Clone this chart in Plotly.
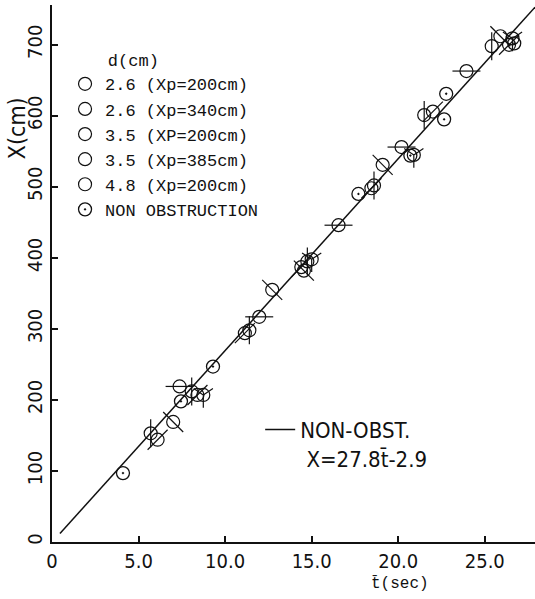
import plotly.graph_objects as go

# ---- data (t in sec, X in cm) ----
nonobs_t = [4.1, 7.45, 9.3, 17.7, 20.7, 22.65, 22.77, 26.7]
nonobs_X = [97, 198, 247, 490, 544, 595, 631, 702]

s1_t = [5.7, 8.07, 11.4, 14.75, 18.6, 21.5, 25.4]      # d=2.6 (Xp=200cm)
s1_X = [153, 212, 298, 395, 502, 601, 698]
s2_t = [7.37, 11.97, 16.55, 20.19, 23.94]               # d=2.6 (Xp=340cm)
s2_X = [219, 317, 446, 556, 663]
s3_t = [6.1, 8.4, 11.14, 14.4, 18.45, 22.0, 26.4]       # d=3.5 (XP=200cm)
s3_X = [144, 207, 294, 387, 498, 606, 700]
s4_t = [7.0, 12.72, 14.55, 19.1, 25.9]                  # d=3.5 (Xp=385cm)
s4_X = [169, 355, 382, 531, 712]
s5_t = [8.74, 15.0, 20.9, 26.6]                         # d=4.8 (Xp=200cm)
s5_X = [207, 398, 545, 709]

fit_t = [0.46, 27.9]
fit_X = [12, 753]

series_names = ["2.6 (Xp=200cm)", "2.6 (Xp=340cm)", "3.5 (XP=200cm)",
                "3.5 (Xp=385cm)", "4.8 (Xp=200cm)"]
tick_symbols = ["line-ns", "line-ew", "line-ne", "line-nw", "y-down"]
tick_sizes = [20, 20, 20, 20, 16]

x_tickvals = [0, 5, 10, 15, 20, 25]
x_ticktext = ["0", "5.0", "10.0", "15.0", "20.0", "25.0"]
y_tickvals = [0, 100, 200, 300, 400, 500, 600, 700]
y_ticktext = ["0", "100", "200", "300", "400", "500", "600", "700"]

INK = "#111111"
MONO = "Liberation Mono, DejaVu Sans Mono, monospace"
NARROW = "Liberation Sans Narrow, DejaVu Sans Condensed, Liberation Sans, sans-serif"

fig = go.Figure()

all_t = [s1_t, s2_t, s3_t, s4_t, s5_t]
all_X = [s1_X, s2_X, s3_X, s4_X, s5_X]

for i in range(5):
    fig.add_trace(go.Scatter(
        x=all_t[i], y=all_X[i], mode="markers", showlegend=False,
        legendgroup="g%d" % i, hoverinfo="skip",
        marker=dict(symbol=tick_symbols[i], size=tick_sizes[i], color=INK,
                    line=dict(width=1.2, color=INK))))
    fig.add_trace(go.Scatter(
        x=all_t[i], y=all_X[i], mode="markers", name=series_names[i],
        legendgroup="g%d" % i,
        marker=dict(symbol="circle-open", size=13, color=INK,
                    line=dict(width=1.2, color=INK))))

fig.add_trace(go.Scatter(
    x=nonobs_t, y=nonobs_X, mode="markers", name="NON OBSTRUCTION",
    marker=dict(symbol="circle-open-dot", size=13, color=INK,
                line=dict(width=1.3, color=INK))))

fig.add_trace(go.Scatter(
    x=fit_t, y=fit_X, mode="lines", legend="legend2",
    name="NON-OBST.<br>\u00a0X=27.8t\u0304-2.9",
    line=dict(color=INK, width=1.5)))

fig.update_layout(
    width=535, height=599,
    margin=dict(l=52, r=0, t=5, b=57),
    plot_bgcolor="white", paper_bgcolor="white",
    legend=dict(x=0.027, y=0.927, xanchor="left", yanchor="top",
                bgcolor="rgba(0,0,0,0)", borderwidth=0,
                font=dict(family=MONO, size=17, color=INK),
                title=dict(text="\u00a0\u00a0\u00a0\u00a0d(cm)",
                           font=dict(family=MONO, size=17, color=INK)),
                tracegroupgap=0, itemwidth=30),
    legend2=dict(x=0.431, y=0.248, xanchor="left", yanchor="top",
                 bgcolor="rgba(0,0,0,0)", valign="top",
                 font=dict(family=NARROW, size=22, color=INK)),
    xaxis=dict(range=[0, 27.9], tickvals=x_tickvals, ticktext=x_ticktext,
               ticks="inside", ticklen=6, tickwidth=1.5, tickcolor=INK,
               showline=True, linewidth=2, linecolor=INK,
               showgrid=False, zeroline=False,
               tickfont=dict(family=NARROW, size=20, color=INK)),
    yaxis=dict(range=[0, 756], tickvals=y_tickvals, ticktext=y_ticktext,
               ticks="inside", ticklen=6, tickwidth=1.5, tickcolor=INK,
               tickangle=-90,
               showline=True, linewidth=2, linecolor=INK,
               showgrid=False, zeroline=False,
               tickfont=dict(family=NARROW, size=20, color=INK)),
    annotations=[
        dict(xref="paper", yref="paper", x=0.72, y=-0.079,
             text="t\u0304(sec)", showarrow=False,
             font=dict(family=MONO, size=16, color=INK),
             xanchor="center", yanchor="middle"),
        dict(xref="paper", yref="paper", x=-0.072, y=0.771,
             text="X(cm)", showarrow=False, textangle=-90,
             font=dict(family=NARROW, size=23, color=INK),
             xanchor="center", yanchor="middle"),
    ],
)

fig.write_html("out.html")
